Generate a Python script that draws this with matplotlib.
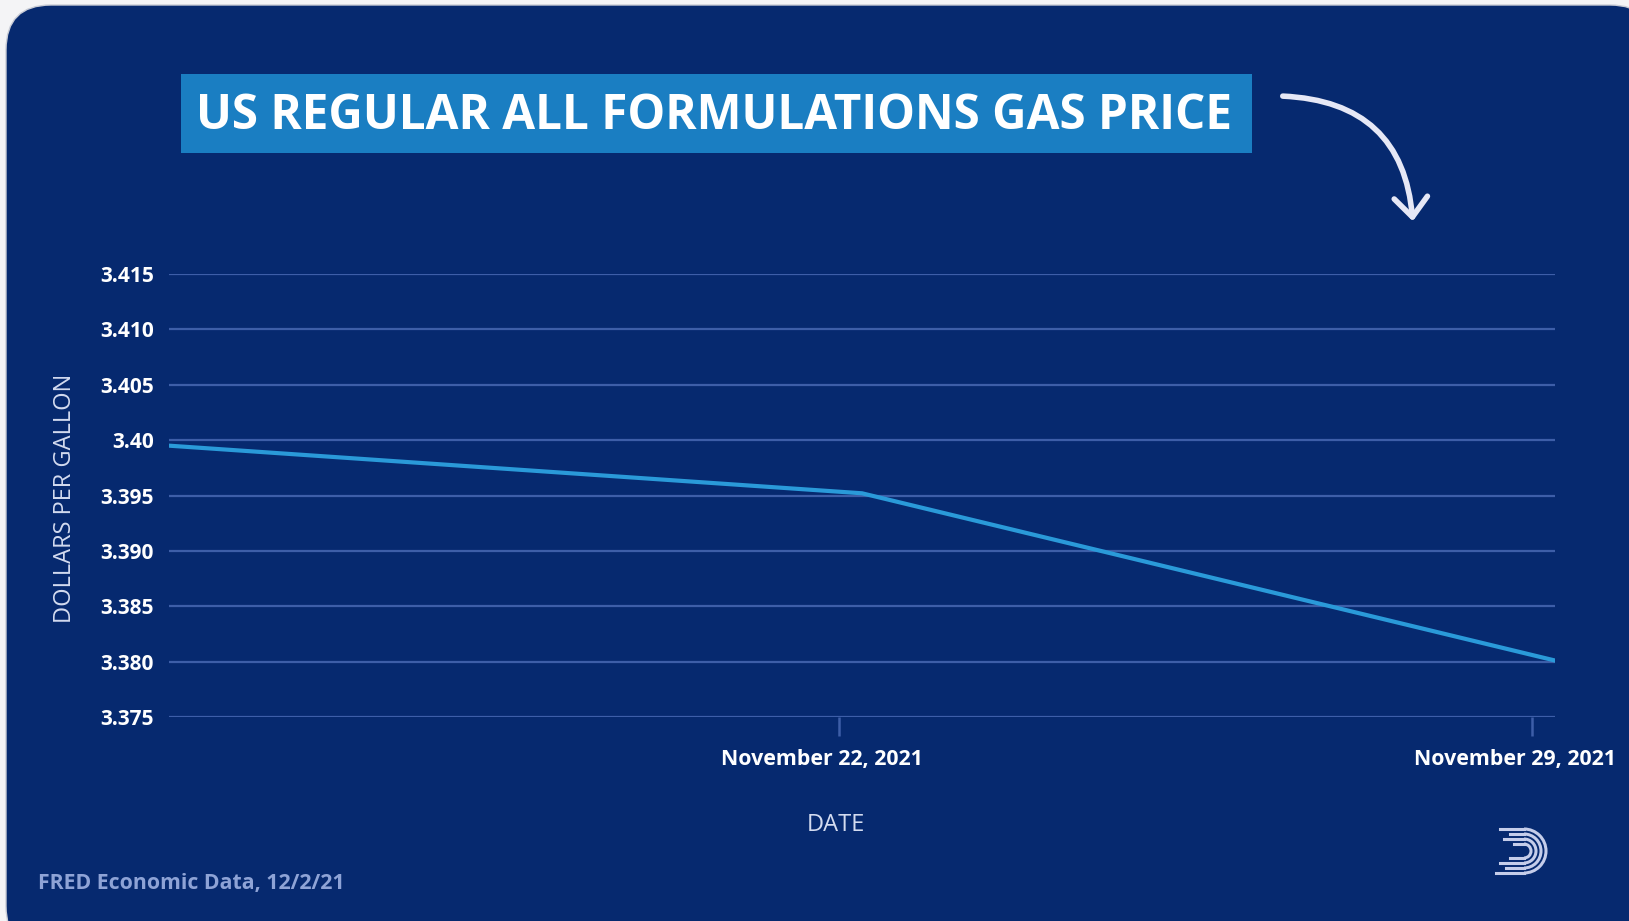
import numpy as np
import matplotlib.pyplot as plt
import matplotlib.dates as mdates
import matplotlib.transforms as mtransforms
from matplotlib.patches import FancyBboxPatch, Rectangle, FancyArrowPatch, Arc
import datetime as dt

# weekly gas price readings (dollars per gallon)
dates = [dt.datetime(2021, 11, 15), dt.datetime(2021, 11, 22), dt.datetime(2021, 11, 29)]
prices = [3.3995, 3.3952, 3.3801]

y_ticks = [3.375, 3.380, 3.385, 3.390, 3.395, 3.40, 3.405, 3.410, 3.415]
y_labels = ["3.375", "3.380", "3.385", "3.390", "3.395", "3.40", "3.405", "3.410", "3.415"]
x_tick_dates = [dt.datetime(2021, 11, 22), dt.datetime(2021, 11, 29)]
x_labels = ["November 22, 2021", "November 29, 2021"]

title = "US REGULAR ALL FORMULATIONS GAS PRICE"
source = "FRED Economic Data, 12/2/21"

navy = "#06296f"
box_blue = "#1a7ec2"
line_blue = "#2a9ad9"
grid_col = "#3d5ea8"
light = "#d3dbf0"

plt.rcParams['font.family'] = ['Open Sans', 'DejaVu Sans']

W, H = 1629, 921
fig = plt.figure(figsize=(W / 100, H / 100), dpi=100)
fig.patch.set_facecolor("#f4f4f6")

# background layer in pixel coordinates
bg = fig.add_axes([0, 0, 1, 1])
bg.set_xlim(0, W)
bg.set_ylim(0, H)
bg.axis("off")
bg.add_patch(FancyBboxPatch((6, -30), W + 20, H - 5 + 30, boxstyle="round,pad=0,rounding_size=45",
                            facecolor=navy, edgecolor="#c9ccd6", lw=1))
bg.add_patch(Rectangle((181, 768), 1071, 79, facecolor=box_blue, edgecolor="none"))
bg.text(714, 804, title, color="white", fontsize=34.3, fontweight="bold", ha="center", va="center")
bg.add_patch(FancyArrowPatch((1280, 825), (1413, 697), connectionstyle="arc3,rad=-0.45",
                             arrowstyle="->,head_length=14,head_width=12", color="#e6e8f6", lw=4,
                             mutation_scale=1, capstyle="round", joinstyle="round"))
bg.text(38, 38, source, color="#8ea3d6", fontsize=15.3, fontweight="bold", ha="left", va="center")

# small logo
cx, cy = 1524, 70
for r, left in [(22, 1500), (17, 1510), (12, 1504), (7, 1514)]:
    bg.add_patch(Arc((cx, cy), 2 * r, 2 * r, theta1=-90, theta2=90, color="#c5cdea", lw=2.2))
    bg.plot([left, cx], [cy + r, cy + r], color="#c5cdea", lw=2.2)
    bg.plot([left - 4, cx], [cy - r, cy - r], color="#c5cdea", lw=2.2)

# main chart
ax = fig.add_axes([169 / W, 204 / H, (1555 - 169) / W, (647 - 204) / H])
ax.patch.set_alpha(0)
ax.plot(dates, prices, color=line_blue, lw=3, zorder=3)
ax.set_xlim(dates[0], dates[-1])
ax.set_ylim(3.375, 3.415)

for s in ax.spines.values():
    s.set_visible(False)
ax.set_yticks(y_ticks)
ax.set_yticklabels(y_labels)
ax.yaxis.grid(True, color=grid_col, lw=1.6)
ax.tick_params(axis="y", length=0, pad=11, labelcolor="white", labelsize=15)
for lab in ax.get_yticklabels():
    lab.set_fontweight("bold")

tick_pos = [mdates.date2num(d) - 0.23 for d in x_tick_dates]
ax.set_xticks(tick_pos)
ax.set_xticklabels(x_labels)
ax.tick_params(axis="x", length=14, width=1.8, color=grid_col, pad=9, labelcolor="white", labelsize=15.4)
shift = mtransforms.ScaledTranslation(-17 / 100, 0, fig.dpi_scale_trans)
for lab in ax.get_xticklabels():
    lab.set_fontweight("bold")
    lab.set_transform(lab.get_transform() + shift)

fig.text(836 / W, 1 - 825 / H, "DATE", color=light, fontsize=17, ha="center", va="center")
fig.text(65 / W, 1 - 498 / H, "DOLLARS PER GALLON", color=light, fontsize=17, rotation=90,
         ha="center", va="center")

fig.savefig("out.png", dpi=100, facecolor=fig.get_facecolor())
